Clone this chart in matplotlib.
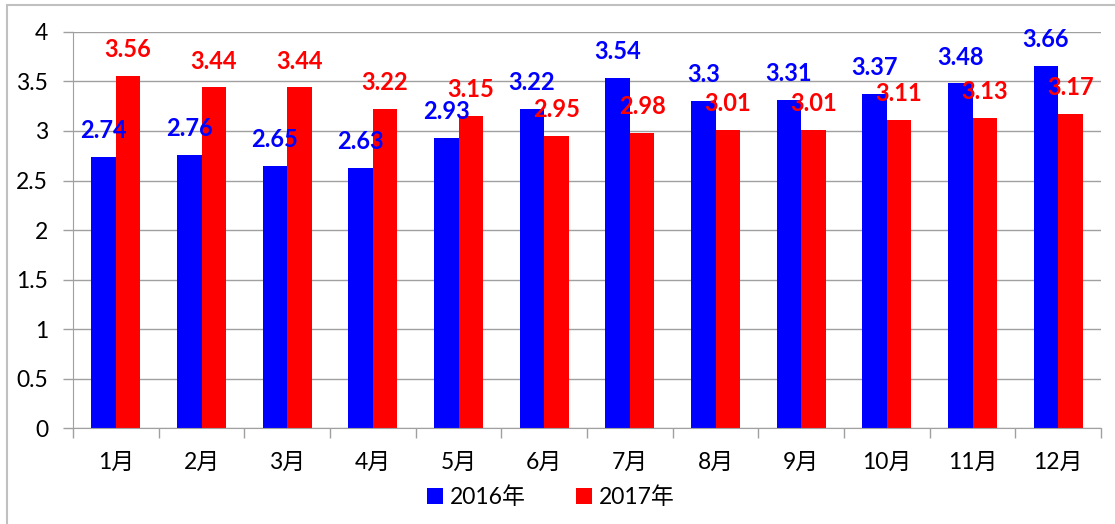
import matplotlib.pyplot as plt
import numpy as np
from matplotlib.patches import Rectangle

plt.rcParams['font.family'] = ['Lato', 'Noto Sans CJK SC', 'DejaVu Sans']

months = ['1月', '2月', '3月', '4月', '5月', '6月', '7月', '8月', '9月', '10月', '11月', '12月']
y2016 = [2.74, 2.76, 2.65, 2.63, 2.93, 3.22, 3.54, 3.3, 3.31, 3.37, 3.48, 3.66]
y2017 = [3.56, 3.44, 3.44, 3.22, 3.15, 2.95, 2.98, 3.01, 3.01, 3.11, 3.13, 3.17]
labels2016 = ['2.74', '2.76', '2.65', '2.63', '2.93', '3.22', '3.54', '3.3', '3.31', '3.37', '3.48', '3.66']
labels2017 = ['3.56', '3.44', '3.44', '3.22', '3.15', '2.95', '2.98', '3.01', '3.01', '3.11', '3.13', '3.17']

fig = plt.figure(figsize=(11.15, 5.24), dpi=100)
ax = fig.add_axes([0.0655, 0.183, 0.922, 0.756])

x = np.arange(len(months))
w = 0.286
b1 = ax.bar(x - w/2, y2016, w, color='#0000ff', label='2016年', zorder=2)
b2 = ax.bar(x + w/2, y2017, w, color='#ff0000', label='2017年', zorder=2)

for rect, t in zip(b1, labels2016):
    ax.annotate(t, (rect.get_x() + rect.get_width()/2, rect.get_height()),
                xytext=(0, 19), textcoords='offset points', ha='center', va='center',
                color='#0000ff', fontsize=17, fontweight='bold', zorder=3)
for rect, t in zip(b2, labels2017):
    ax.annotate(t, (rect.get_x() + rect.get_width()/2, rect.get_height()),
                xytext=(0, 19), textcoords='offset points', ha='center', va='center',
                color='#ff0000', fontsize=17, fontweight='bold', zorder=3)

ax.set_xlim(-0.5, len(months) - 0.5)
ax.set_ylim(0, 4)
ax.set_yticks(np.arange(0, 4.01, 0.5))
ax.set_yticklabels(['0', '0.5', '1', '1.5', '2', '2.5', '3', '3.5', '4'])
ax.set_xticks(x)
ax.set_xticklabels(months)
ax.set_xticks(np.arange(-0.5, len(months)), minor=True)
ax.tick_params(axis='x', which='major', length=0, pad=17, labelsize=16.5)
ax.tick_params(axis='x', which='minor', length=7, color='#a0a0a0', width=1)
ax.tick_params(axis='y', length=7, color='#a0a0a0', width=1, pad=11, labelsize=16.5)
ax.grid(axis='y', color='#a0a0a0', linewidth=1, zorder=0)

for s in ['top', 'right']:
    ax.spines[s].set_visible(False)
for s in ['left', 'bottom']:
    ax.spines[s].set_color('#a0a0a0')

fig.legend(handles=[b1, b2], loc='center', bbox_to_anchor=(0.494, 0.052), ncol=2, frameon=False,
           fontsize=16.5, handlelength=0.7, handleheight=0.7, handletextpad=0.3, columnspacing=2.2)

fig.patches.append(Rectangle((7/1115, -0.01), 1.02, 1 - 5/524 + 0.01, transform=fig.transFigure,
                             fill=False, edgecolor='#c0c0c0', linewidth=1.5))

fig.savefig('out.png', dpi=100)
